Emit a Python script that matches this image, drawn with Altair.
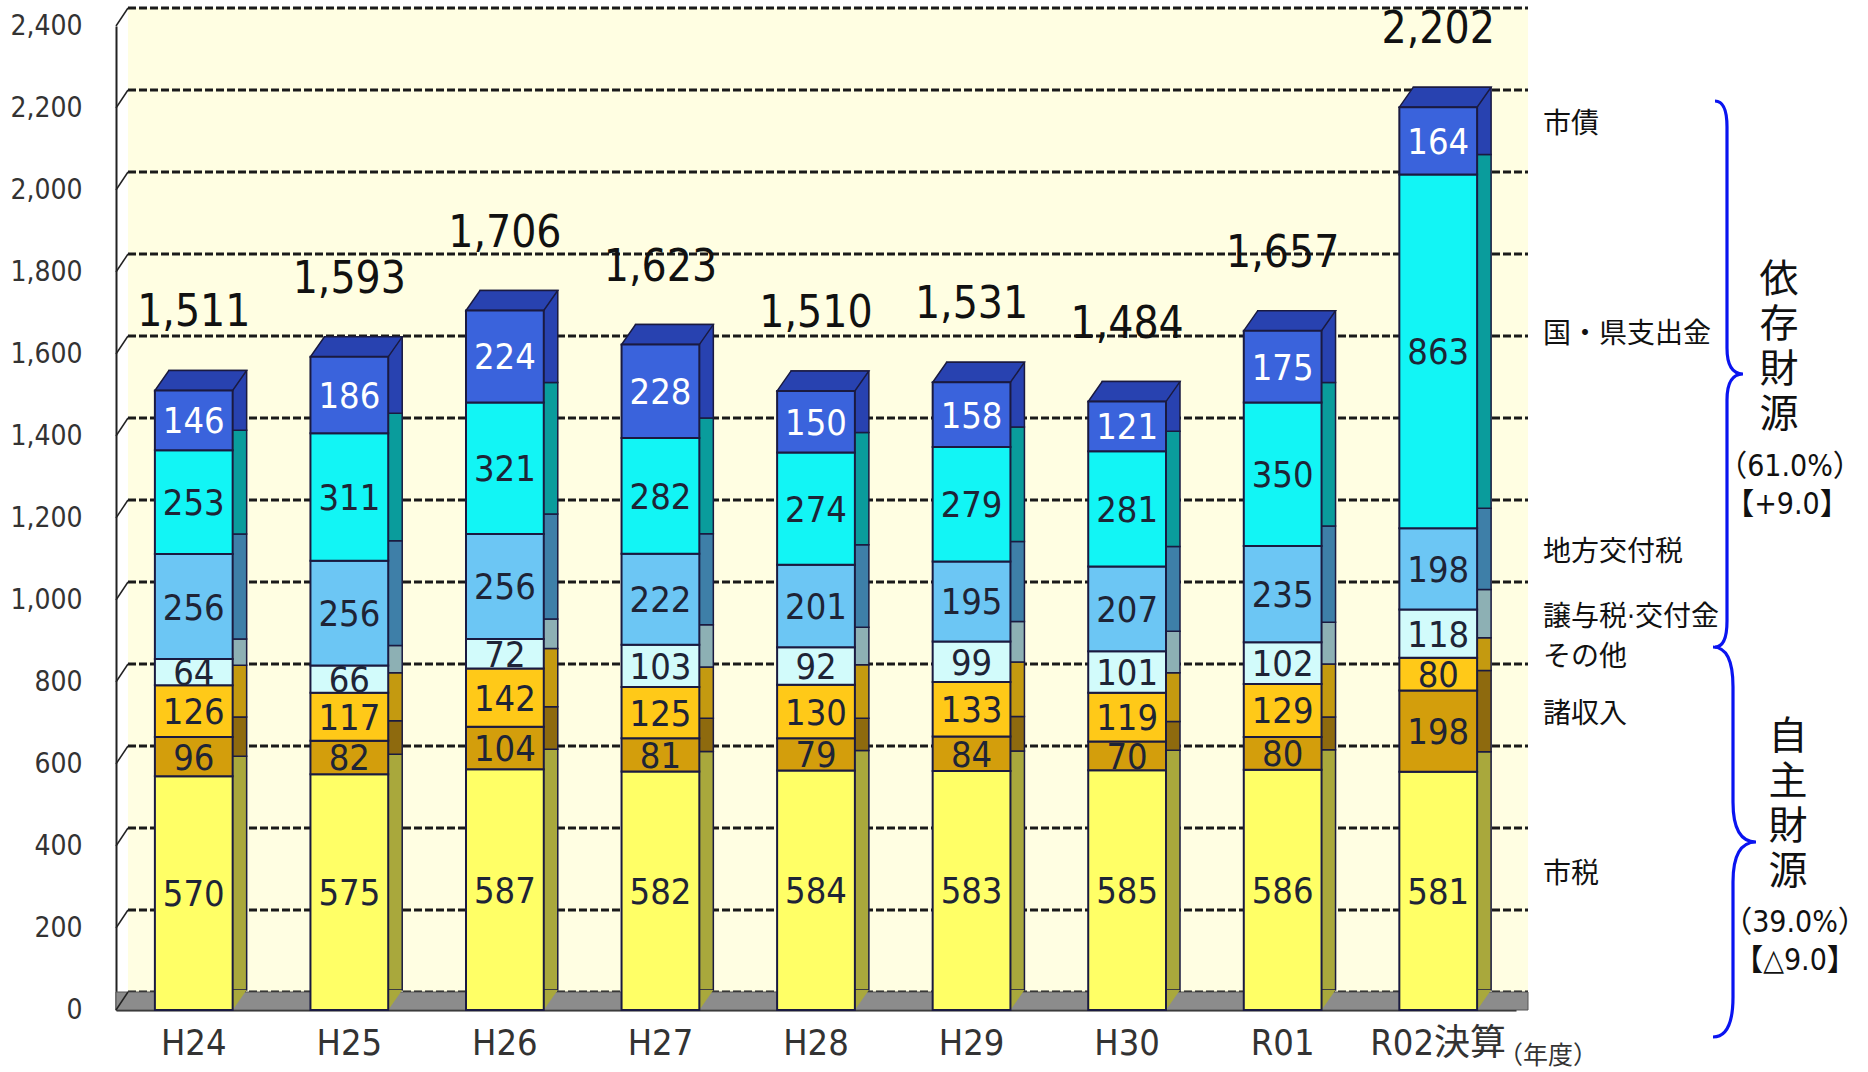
import altair as alt
import pandas as pd

# ---------------- data ----------------
years = ["H24", "H25", "H26", "H27", "H28", "H29", "H30", "R01", "R02決算"]
categories = ["市税", "諸収入", "その他", "譲与税·交付金", "地方交付税", "国・県支出金", "市債"]
shizei = [570, 575, 587, 582, 584, 583, 585, 586, 581]
shoshunyu = [96, 82, 104, 81, 79, 84, 70, 80, 198]
sonota = [126, 117, 142, 125, 130, 133, 119, 129, 80]
jouyozei = [64, 66, 72, 103, 92, 99, 101, 102, 118]
koufuzei = [256, 256, 256, 222, 201, 195, 207, 235, 198]
shishutsukin = [253, 311, 321, 282, 274, 279, 281, 350, 863]
shisai = [146, 186, 224, 228, 150, 158, 121, 175, 164]
totals = [1511, 1593, 1706, 1623, 1510, 1531, 1484, 1657, 2202]
y_ticks = [0, 200, 400, 600, 800, 1000, 1200, 1400, 1600, 1800, 2000, 2200, 2400]

series = [shizei, shoshunyu, sonota, jouyozei, koufuzei, shishutsukin, shisai]
front_colors = ["#FFFF66", "#D39E0C", "#FFC918", "#D2FBFB", "#6CC6F4", "#12F5F5", "#3A63DC"]
side_colors = ["#A9A83C", "#8E6A0E", "#C49A10", "#8DB0B4", "#3E7FA8", "#0A9C9C", "#2842B0"]
text_colors = ["#1E2436", "#1E2436", "#1E2436", "#1E2436", "#1E2436", "#1E2436", "#FFFFFF"]

rows = []
for yi, yr in enumerate(years):
    base = 0
    for ci, cat in enumerate(categories):
        v = series[ci][yi]
        rows.append({"year": yr, "cat": cat, "value": v, "start": base, "end": base + v,
                     "mid": base + v / 2, "front": front_colors[ci], "side": side_colors[ci],
                     "tcol": text_colors[ci], "order": ci})
        base += v
df = pd.DataFrame(rows)
tot_df = pd.DataFrame({"year": years, "total": totals,
                       "label": [f"{t:,}" for t in totals]})
tick_df = pd.DataFrame({"v": y_ticks})
last = df[df["year"] == years[-1]].copy()

# ---------------- layout ----------------
W, H = 1400, 984
YMAX = 2400
DX, DY = 14, 20      # bar depth
WX, WY = 12, 18      # back wall offset
NUM_FONT = "DejaVu Sans Condensed, Noto Sans CJK JP, sans-serif"
JP_FONT = "Noto Sans CJK JP"

PAD_IN, PAD_OUT = 0.5, 0.25
step = W / (len(years) - PAD_IN + 2 * PAD_OUT)
HALF = step * (1 - PAD_IN) / 2   # half of the bar's front width in px

xscale = alt.Scale(domain=years, paddingInner=PAD_IN, paddingOuter=PAD_OUT)
yscale = alt.Scale(domain=[0, YMAX], nice=False, zero=True)
X_AX = alt.Axis(title=None, labelAngle=0, labelFont=NUM_FONT, labelFontSize=36,
                labelColor="#333333", ticks=False, domain=True, domainColor="#222222",
                domainWidth=2, labelPadding=16, grid=False)
Y_AX = alt.Axis(title=None, values=y_ticks, labelExpr="format(datum.value, ',')",
                labelFont=NUM_FONT, labelFontSize=28, labelColor="#333333", ticks=False,
                grid=False, domainColor="#222222", domainWidth=2, labelPadding=34)

one = pd.DataFrame({"a": [0]})

wall = alt.Chart(one).mark_rect(color="#FFFEE2").encode(
    x=alt.value(WX), x2=alt.value(W + WX), y=alt.value(-WY), y2=alt.value(H - WY))

grid = alt.Chart(tick_df).mark_rule(yOffset=-WY, strokeDash=[8, 3], strokeWidth=3,
                                    color="#1A1A1A").encode(
    x=alt.value(WX), x2=alt.value(W + WX),
    y=alt.Y("v:Q", scale=yscale, axis=Y_AX))

diag = alt.Chart(tick_df).mark_rule(y2Offset=-WY, strokeWidth=1.5, color="#222222").encode(
    x=alt.value(0), x2=alt.value(WX),
    y=alt.Y("v:Q", scale=yscale, axis=Y_AX), y2=alt.Y2("v:Q"))

floor = alt.Chart(one).mark_rect(color="#8C8C8C", stroke="#555555", strokeWidth=1).encode(
    x=alt.value(0), x2=alt.value(W + WX), y=alt.value(H - WY), y2=alt.value(H))

sides = alt.Chart(df).mark_bar(xOffset=DX, yOffset=-DY, y2Offset=-DY,
                               stroke="#1A1A40", strokeWidth=1.5).encode(
    x=alt.X("year:N", scale=xscale, axis=X_AX),
    y=alt.Y("start:Q", scale=yscale, axis=Y_AX), y2="end:Q",
    color=alt.Color("side:N", scale=None), order="order:Q")

# 3D helpers: top face parallelogram and bottom side triangle (shapes relative to bar)
S = 60.0
u = lambda v: f"{v / S:.4f}"
top_path = (f"M {u(-HALF)} 0 L {u(HALF)} 0 L {u(HALF + DX)} {u(-DY)} "
            f"L {u(-HALF + DX)} {u(-DY)} Z")
bot_path = f"M {u(HALF)} {u(-DY)} L {u(HALF + DX)} {u(-DY)} L {u(HALF)} 0 Z"

tops = alt.Chart(tot_df).mark_point(shape=top_path, size=4 * S * S, filled=True, opacity=1,
                                    fill=side_colors[-1], stroke="#1A1A40",
                                    strokeWidth=1.5).encode(
    x=alt.X("year:N", scale=xscale, axis=X_AX),
    y=alt.Y("total:Q", scale=yscale, axis=Y_AX))

bots = alt.Chart(tot_df).mark_point(shape=bot_path, size=4 * S * S, filled=True, opacity=1,
                                    fill=side_colors[0], strokeWidth=0).encode(
    x=alt.X("year:N", scale=xscale, axis=X_AX),
    y=alt.datum(0, scale=yscale))

fronts = alt.Chart(df).mark_bar(stroke="#1A1A40", strokeWidth=2).encode(
    x=alt.X("year:N", scale=xscale, axis=X_AX),
    y=alt.Y("start:Q", scale=yscale, axis=Y_AX),
    y2="end:Q",
    color=alt.Color("front:N", scale=None), order="order:Q")

seg_text = alt.Chart(df).mark_text(font=NUM_FONT, fontSize=36, baseline="middle",
                                   align="center", dy=2).encode(
    x=alt.X("year:N", scale=xscale, axis=X_AX),
    y=alt.Y("mid:Q", scale=yscale, axis=Y_AX),
    text="value:Q", color=alt.Color("tcol:N", scale=None))

tot_text = alt.Chart(tot_df).mark_text(font=NUM_FONT, fontSize=44, baseline="alphabetic",
                                       align="center", dy=-64, color="#111111").encode(
    x=alt.X("year:N", scale=xscale, axis=X_AX),
    y=alt.Y("total:Q", scale=yscale, axis=Y_AX),
    text="label:N")

# direct legend labels next to the last bar
cat_text = alt.Chart(last).mark_text(font="DejaVu Sans Condensed, Noto Sans CJK JP",
                                     fontSize=28, align="left",
                                     baseline="middle", dy=-16, color="#111111").encode(
    x=alt.value(1427), y=alt.Y("mid:Q", scale=yscale, axis=Y_AX), text="cat:N")

nendo = alt.Chart(one).mark_text(text="（年度）", font=JP_FONT, fontSize=25, align="center",
                                 baseline="middle", color="#333333").encode(
    x=alt.value(1432), y=alt.value(1030))


def brace(cx, cy, half, left, tip, r):
    h = float(half)
    p = lambda v: f"{v / h:.4f}"
    path = (f"M {p(left)} {p(-h)} Q 0 {p(-h)} 0 {p(-h + r)} L 0 {p(-r)} "
            f"Q 0 0 {p(tip)} 0 Q 0 0 0 {p(r)} L 0 {p(h - r)} Q 0 {p(h)} {p(left)} {p(h)}")
    return alt.Chart(one).mark_point(shape=path, size=4 * h * h, filled=False, opacity=1,
                                     stroke="#0A14F0", strokeWidth=3.2).encode(
        x=alt.value(cx), y=alt.value(cy))


brace1 = brace(1611, 348, 273, -12, 16, 26)
brace2 = brace(1617, 816, 195, -20, 23, 40)


def vertical(word, cx, y0, gap=45):
    d = pd.DataFrame({"ch": list(word), "py": [y0 + i * gap for i in range(len(word))]})
    return alt.Chart(d).mark_text(font=JP_FONT, fontSize=39, align="center",
                                  baseline="middle", color="#111111").encode(
        x=alt.value(cx), y=alt.Y("py:Q", scale=None), text="ch:N")


big1 = vertical("依存財源", 1663, 254)
big2 = vertical("自主財源", 1672, 711)

pct_style = dict(font=NUM_FONT, fontSize=30, align="center", baseline="middle", color="#111111")
p1 = alt.Chart(one).mark_text(text="（61.0%）", **pct_style).encode(x=alt.value(1674), y=alt.value(441))
p2 = alt.Chart(one).mark_text(text="【+9.0】", **pct_style).encode(x=alt.value(1671), y=alt.value(479))
p3 = alt.Chart(one).mark_text(text="（39.0%）", **pct_style).encode(x=alt.value(1679), y=alt.value(897))
p4 = alt.Chart(one).mark_text(text="【△9.0】", **pct_style).encode(x=alt.value(1679), y=alt.value(935))

chart = alt.layer(
    wall, grid, floor, diag, sides, bots, tops, fronts, seg_text, tot_text, cat_text, nendo,
    brace1, brace2, big1, big2, p1, p2, p3, p4
).properties(
    width=W, height=H,
    autosize=alt.AutoSizeParams(type="none"),
    padding={"left": 116, "top": 26, "right": 352, "bottom": 62},
    background="white",
).configure_view(stroke=None)

chart.save("out.html", embed_options={"renderer": "svg", "actions": False})
